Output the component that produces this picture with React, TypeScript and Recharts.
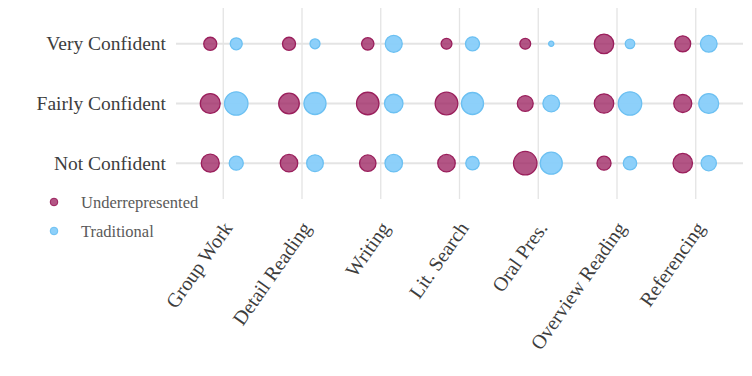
import React from "react";
import {
  ScatterChart,
  Scatter,
  XAxis,
  YAxis,
  ZAxis,
  ReferenceLine,
} from "recharts";

const skills = [
  "Group Work",
  "Detail Reading",
  "Writing",
  "Lit. Search",
  "Oral Pres.",
  "Overview Reading",
  "Referencing",
];
const levels = ["Not Confident", "Fairly Confident", "Very Confident"];

// % of each group per confidence level, one value per skill
const underNot = [36, 34, 30, 34, 61, 22, 42];
const underFairly = [44, 47, 56, 57, 28, 42, 36];
const underVery = [19, 19, 17, 13, 13, 42, 28];
const tradNot = [22, 31, 34, 20, 54, 20, 26];
const tradFairly = [61, 54, 38, 54, 31, 61, 44];
const tradVery = [16, 11, 32, 22, 3, 10, 31];

const groups = ["Underrepresented", "Traditional"];
const colors = {
  Underrepresented: { fill: "#9e2563", stroke: "#9a1f5c", opacity: 0.78 },
  Traditional: { fill: "#87cefa", stroke: "#6cc0f2", opacity: 0.95 },
};

const xTicks = skills.map((_, i) => i);
const yTicks = levels.map((_, i) => i);

const DODGE = 0.165;
const FONT = '"Liberation Serif", "Times New Roman", serif';

function toPoints(rows: number[][], shift: number) {
  return skills.flatMap((skill, i) =>
    levels.map((level, j) => ({
      x: i + shift,
      y: j,
      z: rows[j][i],
      skill,
      level,
    }))
  );
}

const underData = toPoints([underNot, underFairly, underVery], -DODGE);
const tradData = toPoints([tradNot, tradFairly, tradVery], DODGE);

const XTick = ({ x, y, payload }: any) => {
  const ax = x + 10;
  const ay = y + 29;
  return (
    <text
      x={ax}
      y={ay}
      transform={`rotate(-55, ${ax}, ${ay})`}
      textAnchor="end"
      style={{ fontFamily: FONT }}
      fontSize={20}
      fill="#3d3d3d"
    >
      {skills[payload.value]}
    </text>
  );
};

const YTick = ({ x, y, payload }: any) => (
  <text
    x={x}
    y={y + 6.5}
    textAnchor="end"
    style={{ fontFamily: FONT }}
    fontSize={19.5}
    fill="#3d3d3d"
  >
    {levels[payload.value]}
  </text>
);

function LegendBox() {
  return (
    <svg
      width={260}
      height={60}
      style={{ position: "absolute", left: 0, top: 188 }}
    >
      {groups.map((g, i) => {
        const c = colors[g as keyof typeof colors];
        return (
          <g key={g}>
            <circle
              cx={54}
              cy={14 + i * 29}
              r={3.8}
              fill={c.fill}
              fillOpacity={c.opacity}
              stroke={c.stroke}
            />
            <text
              x={81}
              y={19.5 + i * 29}
              style={{ fontFamily: FONT }}
              fontSize={16.5}
              fill="#5a5a5a"
            >
              {g}
            </text>
          </g>
        );
      })}
    </svg>
  );
}

export default function App() {
  return (
    <div style={{ position: "absolute", left: 0, top: 0, width: 752, height: 376 }}>
      <ScatterChart
        width={752}
        height={376}
        margin={{ top: 8, right: 9, bottom: 0, left: 0 }}
      >
        <XAxis
          type="number"
          dataKey="x"
          domain={[-0.6, 6.6]}
          ticks={xTicks}
          interval={0}
          height={177}
          axisLine={false}
          tickLine={false}
          tickSize={0}
          tickMargin={0}
          tick={<XTick />}
        />
        <YAxis
          type="number"
          dataKey="y"
          domain={[-0.6, 2.6]}
          ticks={yTicks}
          interval={0}
          width={176}
          axisLine={false}
          tickLine={false}
          tickSize={0}
          tickMargin={10}
          tick={<YTick />}
        />
        <ZAxis type="number" dataKey="z" domain={[0, 100]} range={[0, 707]} />
        {yTicks.map((v) => (
          <ReferenceLine
            key={`h${v}`}
            y={v}
            stroke="#e4e4e4"
            strokeWidth={2}
            zIndex={-100}
          />
        ))}
        {xTicks.map((v) => (
          <ReferenceLine
            key={`v${v}`}
            x={v}
            stroke="#e4e4e4"
            strokeWidth={1.3}
            zIndex={-100}
          />
        ))}
        <Scatter
          name="Underrepresented"
          data={underData}
          fill={colors.Underrepresented.fill}
          fillOpacity={colors.Underrepresented.opacity}
          stroke={colors.Underrepresented.stroke}
          strokeWidth={1.3}
          isAnimationActive={false}
        />
        <Scatter
          name="Traditional"
          data={tradData}
          fill={colors.Traditional.fill}
          fillOpacity={colors.Traditional.opacity}
          stroke={colors.Traditional.stroke}
          strokeWidth={1.3}
          isAnimationActive={false}
        />
      </ScatterChart>
      <LegendBox />
    </div>
  );
}
